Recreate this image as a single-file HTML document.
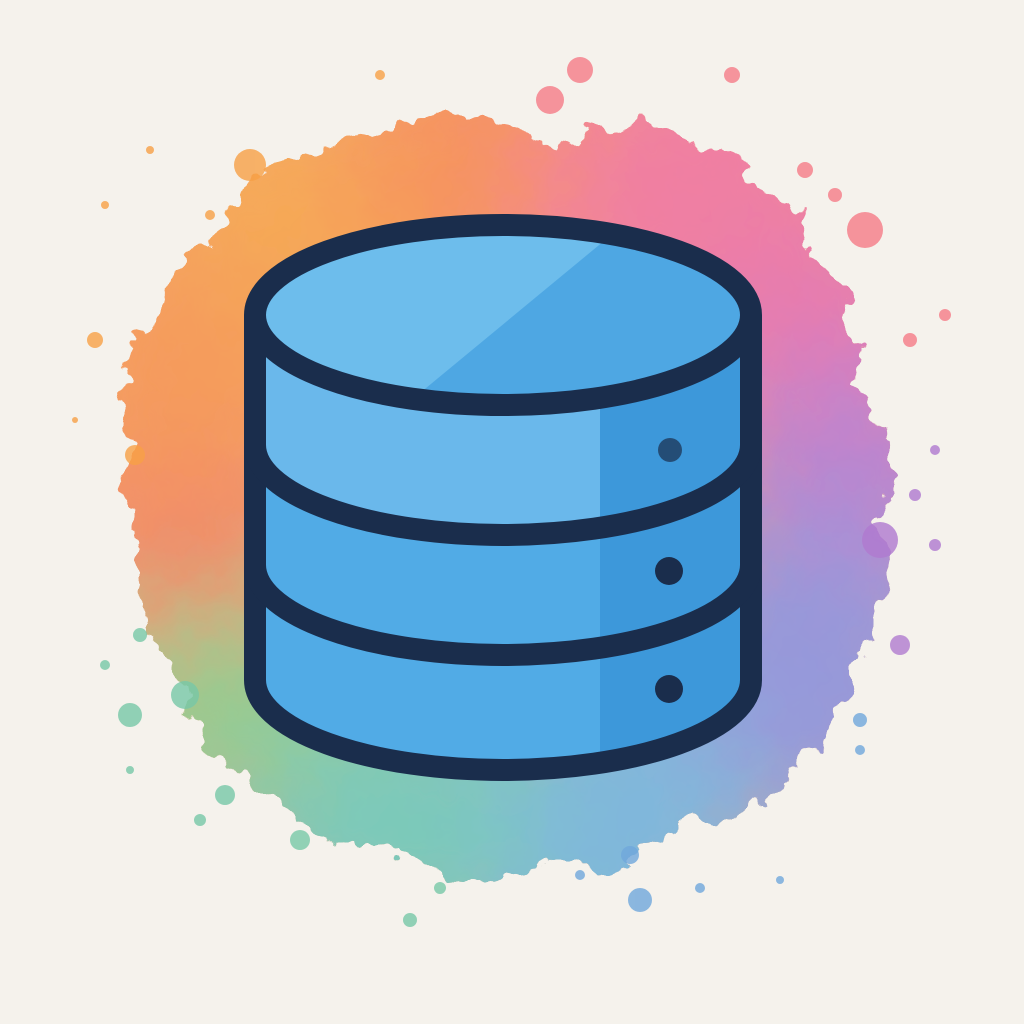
<!DOCTYPE html>
<html><head><meta charset="utf-8"><style>
html,body{margin:0;padding:0;background:#f5f2ec;}
svg{display:block}
</style></head><body>
<svg width="1024" height="1024" viewBox="0 0 1024 1024" xmlns="http://www.w3.org/2000/svg">
<defs>
<filter id="b1" x="-30%" y="-30%" width="160%" height="160%"><feGaussianBlur stdDeviation="55"/></filter>
<filter id="rough" x="-10%" y="-10%" width="120%" height="120%">
<feTurbulence type="fractalNoise" baseFrequency="0.035" numOctaves="3" seed="4" result="n"/>
<feDisplacementMap in="SourceGraphic" in2="n" scale="40" xChannelSelector="R" yChannelSelector="G"/>
</filter>
<clipPath id="blob"><path d="M270 165 C330 130 380 140 420 120 C470 105 500 125 560 150 C610 120 660 110 700 150 C760 170 800 200 810 250 C850 280 860 330 855 380 C895 420 900 470 880 520 C900 570 880 620 860 650 C850 700 830 740 790 770 C770 810 720 830 690 820 C650 860 590 880 540 860 C490 890 430 880 390 850 C340 860 290 830 270 790 C220 770 190 730 190 690 C150 650 130 600 140 550 C110 510 130 470 140 440 C110 400 110 350 150 330 C160 280 190 240 230 220 C240 195 250 180 270 165 Z"/></clipPath>
</defs>
<rect width="1024" height="1024" fill="#f5f2ec"/>
<g filter="url(#rough)" opacity="0.88">
<g clip-path="url(#blob)">
<rect width="1024" height="1024" fill="#f2a070"/>
<g filter="url(#b1)">
<circle cx="300" cy="260" r="170" fill="#f7a042"/>
<circle cx="500" cy="170" r="150" fill="#f7874c"/>
<circle cx="700" cy="200" r="160" fill="#f07098"/>
<circle cx="830" cy="360" r="140" fill="#e56aa8"/>
<circle cx="850" cy="500" r="140" fill="#b476cc"/>
<circle cx="800" cy="680" r="160" fill="#8a8cd8"/>
<circle cx="600" cy="830" r="160" fill="#6fb0da"/>
<circle cx="380" cy="820" r="150" fill="#6cc4b4"/>
<circle cx="210" cy="660" r="140" fill="#86c884"/>
<circle cx="180" cy="500" r="130" fill="#f27a58"/>
<circle cx="170" cy="370" r="120" fill="#f59048"/>
</g>
</g>
</g>
<g opacity="0.8">
<g fill="#f7a046">
<circle cx="250" cy="165" r="16"/><circle cx="380" cy="75" r="5"/><circle cx="105" cy="205" r="4"/><circle cx="95" cy="340" r="8"/><circle cx="135" cy="455" r="10"/><circle cx="150" cy="150" r="4"/><circle cx="210" cy="215" r="5"/><circle cx="75" cy="420" r="3"/>
</g>
<g fill="#f57c88"><circle cx="580" cy="70" r="13"/><circle cx="550" cy="100" r="14"/><circle cx="732" cy="75" r="8"/><circle cx="805" cy="170" r="8"/><circle cx="865" cy="230" r="18"/><circle cx="835" cy="195" r="7"/><circle cx="945" cy="315" r="6"/><circle cx="910" cy="340" r="7"/></g>
<g fill="#b07ad0"><circle cx="880" cy="540" r="18"/><circle cx="900" cy="645" r="10"/><circle cx="935" cy="545" r="6"/><circle cx="915" cy="495" r="6"/><circle cx="935" cy="450" r="5"/></g>
<g fill="#70a8dc"><circle cx="860" cy="720" r="7"/><circle cx="860" cy="750" r="5"/><circle cx="630" cy="855" r="9"/><circle cx="640" cy="900" r="12"/><circle cx="700" cy="888" r="5"/><circle cx="580" cy="875" r="5"/><circle cx="780" cy="880" r="4"/></g>
<g fill="#78c8a8"><circle cx="300" cy="840" r="10"/><circle cx="225" cy="795" r="10"/><circle cx="200" cy="820" r="6"/><circle cx="410" cy="920" r="7"/><circle cx="440" cy="888" r="6"/><circle cx="130" cy="715" r="12"/><circle cx="140" cy="635" r="7"/><circle cx="105" cy="665" r="5"/><circle cx="185" cy="695" r="14"/><circle cx="130" cy="770" r="4"/></g>
</g>
<!-- cylinder -->
<path d="M255 315 L255 680 A248 90 0 0 0 752 680 L752 315 Z" fill="#51abe6"/>
<path d="M600 340 L600 760 Q700 750 752 690 L752 315 Z" fill="#3d98da"/>
<path d="M255 315 L255 480 A248 90 0 0 0 600 520 L600 340 Z" fill="#7cc2ee" opacity="0.6"/>
<ellipse cx="503" cy="315" rx="248" ry="90" fill="#6dbdec"/>
<path d="M420 393 L610 236 A248 90 0 0 1 751 315 A248 90 0 0 1 520 405 Z" fill="#4ea7e3"/>
<g fill="none" stroke="#1a2d4c" stroke-width="22" stroke-linejoin="round">
<ellipse cx="503" cy="315" rx="248" ry="90"/>
<path d="M255 315 L255 680 A248 90 0 0 0 751 680 L751 315"/>
<path d="M255 445 A248 90 0 0 0 751 445"/>
<path d="M255 565 A248 90 0 0 0 751 565"/>
</g>
<circle cx="670" cy="450" r="12" fill="#1a2d4c" opacity="0.7"/>
<circle cx="669" cy="571" r="14" fill="#1a2d4c"/>
<circle cx="669" cy="689" r="14" fill="#1a2d4c"/>
</svg>
</body></html>
